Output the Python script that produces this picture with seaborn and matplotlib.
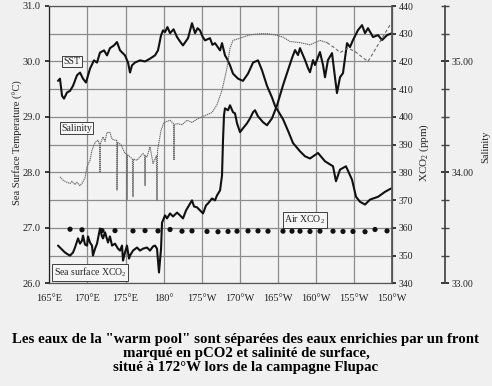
import matplotlib
matplotlib.use('Agg')
import matplotlib.pyplot as plt
import seaborn as sns
import pandas as pd
from matplotlib.ticker import FixedLocator, MultipleLocator, FormatStrFormatter

# ---------------- data ----------------
xtick_lons = [165, 170, 175, 180, 185, 190, 195, 200, 205, 210]
xtick_labels = ['165°E', '170°E', '175°E', '180°', '175°W', '170°W',
                '165°W', '160°W', '155°W', '150°W']

sst_lon = [166.14, 166.40, 166.67, 166.93, 167.32, 167.72, 168.11, 168.63, 169.03, 169.42,
           169.81, 170.34, 170.86, 171.26, 171.65, 172.18, 172.57, 172.96, 173.49, 173.88,
           174.28, 174.93, 175.33, 175.59, 175.85, 176.24, 176.90, 177.56, 178.21, 178.87,
           179.26, 179.66, 179.92, 180.18, 180.50, 180.84, 181.30, 181.76, 182.15, 182.54,
           183.20, 183.72, 184.12, 184.45, 184.77, 185.10, 185.43, 186.08, 186.40, 186.74,
           187.40, 187.66, 188.05, 188.31, 188.71, 189.10, 189.76, 190.41, 191.07, 191.73,
           192.38, 192.91, 193.56, 194.22, 194.61, 195.66, 196.32, 196.97, 197.89, 198.55,
           199.20, 200.25, 201.17, 202.22, 202.61, 203.14, 203.92, 204.71, 205.24, 205.76,
           206.42, 207.08, 208.13, 209.05, 209.84]
sst_val = [29.65, 29.69, 29.38, 29.33, 29.44, 29.47, 29.56, 29.75, 29.80, 29.69,
           29.62, 29.87, 30.02, 29.98, 30.16, 30.20, 30.11, 30.24, 30.29, 30.35,
           30.20, 30.11, 29.98, 29.80, 29.93, 29.98, 30.02, 30.00, 30.05, 30.11,
           30.20, 30.47, 30.56, 30.53, 30.62, 30.51, 30.58, 30.44, 30.36, 30.29,
           30.42, 30.69, 30.51, 30.60, 30.56, 30.45, 30.38, 30.42, 30.30, 30.33,
           30.20, 30.33, 30.11, 30.05, 29.93, 29.78, 29.69, 29.65, 29.78, 29.98,
           30.02, 29.84, 29.56, 29.35, 29.20, 28.96, 28.75, 28.53, 28.38, 28.29,
           28.25, 28.35, 28.20, 28.11, 27.84, 28.05, 28.11, 27.87, 27.56, 27.47,
           27.42, 27.51, 27.56, 27.65, 27.71]

sea_lon = [166.14, 166.40, 166.80, 167.06, 167.45, 167.72, 168.11, 168.37, 168.77, 169.03,
           169.29, 169.42, 169.68, 169.95, 170.08, 170.34, 170.60, 170.73, 171.00, 171.26,
           171.65, 171.91, 172.05, 172.31, 172.70, 172.96, 173.23, 173.62, 174.01, 174.28,
           174.54, 174.67, 174.93, 175.19, 175.46, 175.59, 175.98, 176.51, 176.90, 177.30,
           177.82, 178.21, 178.61, 178.87, 179.13, 179.39, 179.66, 179.79, 179.92, 180.18,
           180.44, 180.84, 181.23, 181.76, 182.15, 182.54, 182.94, 183.33, 183.72, 183.99,
           184.38, 184.77, 185.17, 185.56, 185.82, 186.35, 186.74, 187.00, 187.40, 187.66,
           187.79, 187.92, 188.05, 188.45, 188.71, 189.10, 189.36, 189.63, 190.02, 190.41,
           190.94, 191.34, 191.73, 191.99, 192.38, 193.04, 193.56, 194.22, 194.88, 195.66,
           196.32, 196.84, 197.24, 197.63, 197.89, 198.55, 198.94, 199.20, 199.60, 199.86,
           200.51, 200.91, 201.17, 201.56, 202.09, 202.48, 202.74, 203.14, 203.53, 204.06,
           204.45, 204.84, 205.50, 206.03, 206.42, 206.81, 207.47, 208.13, 208.65, 209.31,
           209.97]
sea_xco2 = [353.6, 352.9, 351.8, 351.1, 350.4, 350.0, 351.1, 352.9, 356.2, 354.3,
            355.4, 357.2, 354.0, 353.6, 356.9, 354.7, 353.6, 350.0, 352.5, 354.3,
            359.8, 356.9, 356.2, 358.4, 354.7, 356.9, 353.6, 354.3, 352.5, 351.8,
            353.6, 348.2, 351.1, 353.6, 348.9, 350.0, 351.8, 352.9, 351.8, 352.5,
            352.9, 351.8, 353.3, 353.6, 352.5, 343.9, 352.5, 361.9, 362.7, 364.5,
            363.4, 365.2, 364.1, 365.5, 364.5, 363.4, 366.3, 368.1, 369.9, 367.7,
            367.4, 366.3, 365.2, 368.1, 368.8, 370.6, 369.9, 371.7, 373.5, 378.9,
            391.6, 400.6, 403.1, 402.4, 404.2, 401.7, 401.3, 397.7, 394.5, 395.9,
            397.7, 399.5, 401.7, 402.4, 400.2, 398.1, 397.0, 399.5, 404.2, 411.4,
            416.9, 421.2, 424.1, 422.3, 424.8, 420.5, 417.6, 416.1, 420.5, 418.7,
            423.4, 418.7, 414.3, 420.5, 423.0, 414.3, 408.6, 414.3, 415.8, 426.6,
            425.2, 427.7, 431.3, 433.1, 430.2, 432.0, 428.8, 429.5, 427.7, 429.5,
            430.2]

air_lon = [167.72, 169.29, 171.91, 173.62, 175.98, 177.56, 179.26, 180.84, 182.41, 183.72,
           185.69, 187.13, 188.45, 189.63, 191.07, 192.38, 193.69, 195.66, 196.84, 197.89,
           199.20, 200.51, 202.22, 203.53, 204.84, 206.42, 207.73, 209.31]
air_xco2 = [359.5, 359.3, 359.0, 359.0, 358.9, 359.0, 358.9, 359.4, 358.8, 358.9,
            358.7, 358.6, 358.7, 358.8, 358.9, 358.9, 358.8, 358.8, 358.8, 358.8,
            358.7, 358.8, 358.8, 358.7, 358.7, 358.6, 359.4, 358.9]

sal_lon = [166.40, 166.80, 167.32, 167.72, 167.98, 168.37, 168.63, 169.03, 169.29, 169.68,
           169.95, 170.34, 170.60, 171.00, 171.39, 171.60, 171.65, 171.70, 172.05, 172.31,
           172.57, 172.96, 173.23, 173.62, 173.85, 173.88, 173.95, 174.40, 174.93, 175.15,
           175.19, 175.25, 175.59, 175.90, 175.98, 176.05, 176.51, 176.90, 177.30, 177.50,
           177.56, 177.62, 177.82, 178.21, 178.61, 179.05, 179.13, 179.20, 179.66, 180.05,
           180.84, 181.30, 181.36, 181.42, 181.76, 182.41, 183.07, 183.72, 184.38, 185.03,
           185.69, 186.35, 187.00, 187.66, 188.31, 188.71, 189.10, 190.02, 191.34, 192.65,
           193.56, 194.61, 195.66, 196.58, 197.89, 199.20, 200.51, 201.43]
sal_val = [33.96, 33.93, 33.91, 33.90, 33.92, 33.89, 33.91, 33.88, 33.90, 33.95,
           34.05, 34.11, 34.20, 34.27, 34.29, 34.25, 34.00, 34.26, 34.32, 34.28,
           34.36, 34.36, 34.30, 34.29, 34.29, 33.84, 34.27, 34.25, 34.17, 34.17,
           33.75, 34.16, 34.14, 34.12, 33.78, 34.12, 34.11, 34.14, 34.17, 34.15,
           33.88, 34.15, 34.14, 34.23, 34.08, 34.15, 33.75, 34.20, 34.38, 34.45,
           34.47, 34.44, 34.11, 34.43, 34.44, 34.43, 34.47, 34.45, 34.48, 34.50,
           34.52, 34.54, 34.61, 34.74, 34.94, 35.12, 35.19, 35.21, 35.24, 35.25,
           35.25, 35.24, 35.22, 35.18, 35.17, 35.15, 35.19, 35.17]
sal_dash_lon = [201.43, 202.48, 203.14, 204.19, 205.11, 206.03, 206.81, 208.39, 209.97]
sal_dash_val = [35.17, 35.12, 35.08, 35.12, 35.09, 35.04, 35.00, 35.18, 35.36]

sst_ticks = [26.0, 27.0, 28.0, 29.0, 30.0, 31.0]
xco2_ticks = [340, 350, 360, 370, 380, 390, 400, 410, 420, 430, 440]
sal_ticks = [33.0, 34.0, 35.0]

caption_lines = ['Les eaux de la "warm pool" sont séparées des eaux enrichies par un front',
                 'marqué en pCO2 et salinité de surface,',
                 'situé à 172°W lors de la campagne Flupac']

# ---------------- style ----------------
sns.set_theme(style='white')
plt.rcParams['font.family'] = ['Liberation Serif', 'DejaVu Serif']
plt.rcParams['mathtext.fontset'] = 'custom'
plt.rcParams['mathtext.rm'] = 'Liberation Serif'
plt.rcParams['mathtext.it'] = 'Liberation Serif:italic'
plt.rcParams['mathtext.bf'] = 'Liberation Serif:bold'

bg = '#f0f0f0'
grid_c = '#8c8c8c'
fig = plt.figure(figsize=(4.92, 3.86), dpi=100, facecolor=bg)
ax = fig.add_axes([49.3 / 492, 1 - 283.3 / 386, 343 / 492, 277.3 / 386])
ax.set_facecolor('#f3f3f3')

ax.set_xlim(165, 210)
ax.set_ylim(26, 31)
ax.xaxis.set_major_locator(FixedLocator(xtick_lons))
ax.set_xticklabels(xtick_labels)
ax.yaxis.set_major_locator(FixedLocator(sst_ticks))
ax.yaxis.set_minor_locator(MultipleLocator(0.5))
ax.yaxis.set_major_formatter(FormatStrFormatter('%.1f'))
ax.grid(True, which='both', axis='y', color=grid_c, lw=0.9)
ax.grid(True, which='major', axis='x', color=grid_c, lw=0.9)
ax.tick_params(axis='x', length=0, pad=8, labelsize=7.5, colors='#222')
ax.tick_params(axis='y', which='major', length=3, pad=3, labelsize=7.5, colors='#222')
ax.tick_params(axis='y', which='minor', length=0)
for s in ax.spines.values():
    s.set_color('#555')
    s.set_linewidth(0.9)
ax.spines['left'].set_color('#222')

# SST
sns.lineplot(x=sst_lon, y=sst_val, ax=ax, sort=False, estimator=None,
             color='#111', lw=1.5)

# XCO2 axis
ax2 = ax.twinx()
ax2.set_ylim(340, 440)
ax2.yaxis.set_major_locator(FixedLocator(xco2_ticks))
ax2.tick_params(axis='y', length=3, pad=1.5, labelsize=7, colors='#222')
ax2.spines['right'].set_color('#555')
for k in ['left', 'top', 'bottom']:
    ax2.spines[k].set_visible(False)
sns.lineplot(x=sea_lon, y=sea_xco2, ax=ax2, sort=False, estimator=None,
             color='#111', lw=1.5)
sns.scatterplot(x=air_lon, y=air_xco2, ax=ax2, color='#111', s=14,
                edgecolor='none', marker='o')

# Salinity axis
ax3 = ax.twinx()
ax3.set_ylim(33, 35.5)
ax3.spines['right'].set_position(('outward', 38))
ax3.spines['right'].set_color('#444')
for k in ['left', 'top', 'bottom']:
    ax3.spines[k].set_visible(False)
ax3.yaxis.set_major_locator(FixedLocator(sal_ticks))
ax3.yaxis.set_minor_locator(MultipleLocator(0.25))
ax3.yaxis.set_major_formatter(FormatStrFormatter('%.2f'))
ax3.tick_params(axis='y', which='major', direction='inout', length=6, pad=1.5,
                labelsize=7, colors='#222')
ax3.tick_params(axis='y', which='minor', direction='inout', length=6, color='#444')
sns.lineplot(x=sal_lon, y=sal_val, ax=ax3, sort=False, estimator=None,
             color='#6a6a6a', lw=0.8, linestyle=(0, (1.2, 0.6)))
sns.lineplot(x=sal_dash_lon, y=sal_dash_val, ax=ax3, sort=False, estimator=None,
             color='#6a6a6a', lw=0.8, linestyle=(0, (3, 2)))
for a in (ax, ax2, ax3):
    a.set_xlabel('')
    a.set_ylabel('')

# inline boxed labels
box = dict(boxstyle='square,pad=0.15', fc='#f6f6f6', ec='#222', lw=0.6)
ax.text(0.066, 0.80, 'SST', transform=ax.transAxes, fontsize=7, ha='center', va='center', bbox=box, zorder=5)
ax.text(0.079, 0.56, 'Salinity', transform=ax.transAxes, fontsize=7, ha='center', va='center', bbox=box, zorder=5)
ax3.text(0.119, 0.039, r'Sea surface XCO$_2$', transform=ax.transAxes, fontsize=7, ha='center', va='center', bbox=box, zorder=5)
ax3.text(0.745, 0.228, r'Air XCO$_2$', transform=ax.transAxes, fontsize=7, ha='center', va='center', bbox=box, zorder=5)

# axis titles
fig.text(18 / 492, 1 - 143 / 386, 'Sea Surface Temperature (°C)', rotation=90,
         ha='center', va='center', fontsize=7.5, color='#222')
fig.text(424 / 492, 1 - 152 / 386, r'XCO$_2$ (ppm)', rotation=90,
         ha='center', va='center', fontsize=8, color='#222')
fig.text(486 / 492, 1 - 147 / 386, 'Salinity', rotation=90,
         ha='center', va='center', fontsize=7.5, color='#222')

# caption
for i, line in enumerate(caption_lines):
    fig.text(0.5, 1 - (339 + 14 * i) / 386, line, ha='center', va='center',
             fontsize=10.7, fontweight='bold', color='#000')

fig.savefig('out.png', dpi=100, facecolor=bg)
